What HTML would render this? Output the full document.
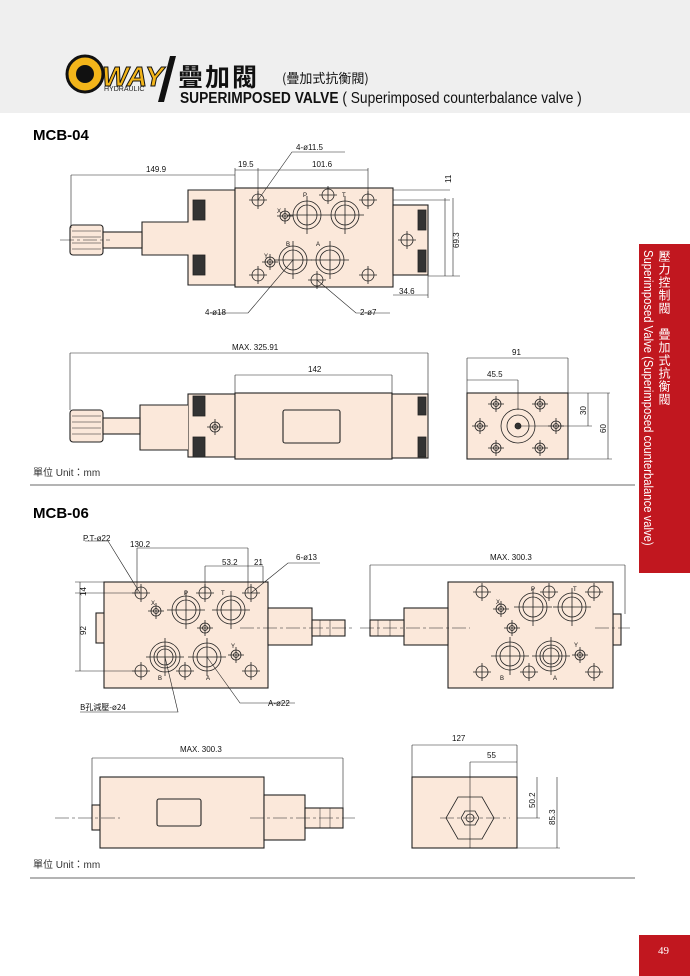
<!DOCTYPE html>
<html><head><meta charset="utf-8"><style>
body{margin:0;width:690px;height:976px;background:#fff;position:relative;overflow:hidden;font-family:"Liberation Sans","Noto Sans CJK TC",sans-serif}
.hdr{position:absolute;left:0;top:0;width:690px;height:113px;background:#efefef}
.t{position:absolute;white-space:nowrap}
.tab{position:absolute;left:639px;top:244px;width:51px;height:329px;background:#c1171f}
svg{position:absolute;left:0;top:0}
</style></head><body>
<div class="hdr"></div>
<div class="t" style="left:178px;top:58px;font-size:25px;font-weight:bold;letter-spacing:2px;font-family:'Noto Sans CJK TC',sans-serif;color:#111">疊加閥</div>
<div class="t" style="left:282px;top:68px;font-size:13px;font-family:'Noto Sans CJK TC',sans-serif;color:#111">(疊加式抗衡閥)</div>
<div class="t" style="left:180px;top:90px;font-size:16px;font-weight:bold;color:#111;transform:scaleX(0.86);transform-origin:left">SUPERIMPOSED VALVE <span style="font-weight:normal">( Superimposed counterbalance valve )</span></div>
<div class="t" style="left:104px;top:86px;font-size:7px;color:#222">HYDRAULIC</div>
<div class="t" style="left:33px;top:127px;font-size:15px;font-weight:bold">MCB-04</div>
<div class="t" style="left:33px;top:505px;font-size:15px;font-weight:bold">MCB-06</div>
<div class="t" style="left:33px;top:464px;font-size:10px;color:#333">單位 Unit：mm</div>
<div class="t" style="left:33px;top:856px;font-size:10px;color:#333">單位 Unit：mm</div>
<div class="tab"></div>
<div class="t" style="left:656px;top:250px;writing-mode:vertical-rl;font-size:12px;color:#fff;font-family:'Noto Sans CJK TC',sans-serif;letter-spacing:1px">壓力控制閥　疊加式抗衡閥</div>
<div class="t" style="left:641px;top:250px;writing-mode:vertical-rl;font-size:12.5px;color:#fff;transform:scaleY(0.9);transform-origin:top">Superimposed Valve (Superimposed counterbalance valve)</div>
<div style="position:absolute;left:639px;top:935px;width:51px;height:41px;background:#c1171f"></div>
<div class="t" style="left:658px;top:945px;font-size:11px;color:#fff;font-family:'Liberation Serif',serif">49</div>
<svg width="690" height="976" viewBox="0 0 690 976" font-family="Liberation Sans, sans-serif" font-size="8" fill="none" stroke="#222" stroke-width="0.8">
<defs>
<g id="hs"><circle r="6"/><path d="M-9 0H9M0-9V9"/></g>
<g id="hx"><circle r="5"/><circle r="2.5"/><path d="M-8 0H8M0-8V8"/></g>
<g id="hm"><circle r="14"/><circle r="10"/><path d="M-19 0H19M0-19V19"/></g>
<g id="hb"><circle r="15"/><circle r="11"/><circle r="8"/><path d="M-19 0H19M0-19V19"/></g>
</defs>
<!-- logo -->
<circle cx="85" cy="74" r="18" fill="#f3b51a" stroke="#111" stroke-width="3"/>
<circle cx="85" cy="74" r="9" fill="#111" stroke="none"/>
<text x="102" y="86" font-size="28" font-weight="bold" font-style="italic" fill="#f3b51a" stroke="#111" stroke-width="1">WAY</text>
<path d="M170 56L158 102H164L176 56Z" fill="#111" stroke="none"/>
<g stroke="#222" fill="#fbe8da" stroke-width="1.1">
<path d="M188 190H235V285H188V255H142V222H188Z"/>
<rect x="235" y="188" width="158" height="99"/>
<rect x="393" y="205" width="35" height="70"/>
<rect x="70" y="225" width="33" height="30" rx="3"/>
<rect x="103" y="232" width="39" height="16"/>
<rect x="188" y="394" width="47" height="63"/>
<path d="M188 405H140V450H188"/>
<rect x="235" y="393" width="157" height="66"/>
<rect x="392" y="394" width="36" height="64"/>
<rect x="70" y="410" width="33" height="32" rx="3"/>
<rect x="103" y="418" width="37" height="16"/>
<rect x="283" y="410" width="57" height="33" rx="2"/>
<rect x="467" y="393" width="101" height="66"/>
<rect x="96" y="613" width="9" height="30"/>
<rect x="104" y="582" width="164" height="106"/>
<rect x="268" y="608" width="44" height="37"/>
<rect x="312" y="620" width="33" height="16"/>
<rect x="613" y="614" width="8" height="31"/>
<rect x="448" y="582" width="165" height="106"/>
<rect x="404" y="608" width="44" height="37"/>
<rect x="370" y="620" width="34" height="16"/>
<rect x="92" y="805" width="8" height="25"/>
<rect x="100" y="777" width="164" height="71"/>
<rect x="264" y="795" width="41" height="45"/>
<rect x="305" y="808" width="38" height="20"/>
<rect x="157" y="799" width="44" height="27" rx="2"/>
<rect x="412" y="777" width="105" height="71"/>
</g>
<g stroke-width="0.5"><path d="M72 231H101M72 237H101M72 243H101M72 249H101M72 416H101M72 422H101M72 428H101M72 434H101M320 620V636M330 620V636M378 620V636M390 620V636M320 808V828M330 808V828"/></g>
<use href="#hs" x="258" y="200"/><use href="#hs" x="368" y="200"/><use href="#hs" x="258" y="275"/><use href="#hs" x="368" y="275"/>
<use href="#hm" x="307" y="215"/><use href="#hm" x="345" y="215"/><use href="#hm" x="293" y="260"/><use href="#hm" x="330" y="260"/>
<use href="#hx" x="285" y="216"/><use href="#hx" x="270" y="262"/><use href="#hs" x="317" y="280"/><use href="#hs" x="328" y="195"/>
<use href="#hs" x="407" y="240"/>
<g fill="#333"><rect x="193" y="200" width="12" height="20"/><rect x="193" y="255" width="12" height="20"/><rect x="418" y="210" width="8" height="20"/><rect x="418" y="250" width="8" height="22"/>
<rect x="193" y="396" width="12" height="20"/><rect x="193" y="437" width="12" height="20"/><rect x="418" y="397" width="8" height="18"/><rect x="418" y="437" width="8" height="20"/></g>
<use href="#hx" x="215" y="427"/>
<circle cx="518" cy="426" r="17"/><circle cx="518" cy="426" r="11"/><circle cx="518" cy="426" r="3" fill="#333"/>
<use href="#hx" x="496" y="404"/><use href="#hx" x="540" y="404"/><use href="#hx" x="480" y="426"/><use href="#hx" x="556" y="426"/><use href="#hx" x="496" y="448"/><use href="#hx" x="540" y="448"/>
<use href="#hs" x="141" y="593"/><use href="#hs" x="205" y="593"/><use href="#hs" x="251" y="593"/><use href="#hs" x="141" y="671"/><use href="#hs" x="185" y="671"/><use href="#hs" x="251" y="671"/>
<use href="#hm" x="186" y="610"/><use href="#hm" x="231" y="610"/><use href="#hx" x="156" y="611"/><use href="#hx" x="205" y="628"/>
<use href="#hb" x="165" y="657"/><use href="#hm" x="207" y="657"/><use href="#hx" x="236" y="655"/>
<use href="#hs" x="482" y="592"/><use href="#hs" x="549" y="592"/><use href="#hs" x="594" y="592"/><use href="#hs" x="482" y="672"/><use href="#hs" x="529" y="672"/><use href="#hs" x="594" y="672"/>
<use href="#hm" x="533" y="607"/><use href="#hm" x="572" y="607"/><use href="#hx" x="501" y="609"/><use href="#hx" x="512" y="628"/>
<use href="#hm" x="510" y="656"/><use href="#hb" x="551" y="656"/><use href="#hx" x="580" y="655"/>
<path d="M458 797H482L494 818L482 839H458L446 818Z"/><path d="M465 811H475L479 818L475 825H465L461 818Z"/><circle cx="470" cy="818" r="4"/>
<g stroke-dasharray="14 3 3 3" stroke-width="0.6"><path d="M60 240H110M240 628H355M360 628H470M595 628H630M55 818H120M250 818H355M440 818H510"/></g>
<g stroke-width="0.6">
<path d="M71 175H235M71 175V228M235 168V188M235 170H368M258 168V200M368 168V200"/>
<path d="M393 190H450M393 200H450M445 198V276M428 276H460M453 198V276M393 295H428M428 275V298"/>
<path d="M70 353H428M70 353V410M428 353V394M235 375H392M235 375V393M392 375V393"/>
<path d="M467 358H568M467 358V393M568 358V393M467 380H518M518 380V410M568 393H610M518 426H592M588 393V426M608 393V459M568 459H612"/>
<path d="M137 548H248M137 548V593M248 548V593M205 566H263M205 566V593M263 566V582M75 582H104M75 593H140M75 671H140M80 582V671"/>
<path d="M370 565H625M370 565V620M625 565V614"/>
<path d="M92 758H343M92 758V805M343 758V808M412 745H517M412 745V777M517 745V777M470 762H517M470 762V848M517 818H540M537 777V818M517 848H560M557 777V848"/>
</g>
<g stroke-width="0.6"><path d="M258 200L292 152H345M293 260L248 313H210M317 280L356 313H390M140 593L108 541H85M165 657L178 712H80M207 657L240 703H295M251 593L288 563H320"/></g>
<g fill="#111" stroke="none" font-size="8">
<text x="146" y="172">149.9</text><text x="238" y="167">19.5</text><text x="312" y="167">101.6</text><text x="296" y="150">4-ø11.5</text>
<text x="205" y="315">4-ø18</text><text x="360" y="315">2-ø7</text><text x="399" y="294">34.6</text>
<text x="232" y="350">MAX. 325.91</text><text x="308" y="372">142</text><text x="512" y="355">91</text><text x="487" y="377">45.5</text>
<text x="130" y="547">130.2</text><text x="222" y="565">53.2</text><text x="254" y="565">21</text><text x="296" y="560">6-ø13</text>
<text x="83" y="541">P.T-ø22</text><text x="490" y="560">MAX. 300.3</text><text x="268" y="706">A-ø22</text>
<text x="80" y="710" font-family="Noto Sans CJK TC, sans-serif">B孔減壓-ø24</text>
<text x="180" y="752">MAX. 300.3</text><text x="452" y="741">127</text><text x="487" y="758">55</text>
<g font-size="6"><text x="277" y="213">X</text><text x="303" y="197">P</text><text x="342" y="197">T</text><text x="286" y="246">B</text><text x="316" y="246">A</text><text x="264" y="258">Y</text>
<text x="151" y="605">X</text><text x="184" y="595">P</text><text x="221" y="595">T</text><text x="158" y="680">B</text><text x="206" y="680">A</text><text x="231" y="648">Y</text>
<text x="496" y="604">X</text><text x="531" y="591">P</text><text x="573" y="591">T</text><text x="500" y="680">B</text><text x="553" y="680">A</text><text x="574" y="647">Y</text></g>
<text transform="translate(451,183) rotate(-90)">11</text><text transform="translate(459,248) rotate(-90)">69.3</text>
<text transform="translate(586,415) rotate(-90)">30</text><text transform="translate(606,433) rotate(-90)">60</text>
<text transform="translate(86,596) rotate(-90)">14</text><text transform="translate(86,635) rotate(-90)">92</text>
<text transform="translate(535,808) rotate(-90)">50.2</text><text transform="translate(555,825) rotate(-90)">85.3</text>
</g>
<path d="M30 485H635M30 878H635" stroke="#888" stroke-width="1.2"/>
</svg>
</body></html>
